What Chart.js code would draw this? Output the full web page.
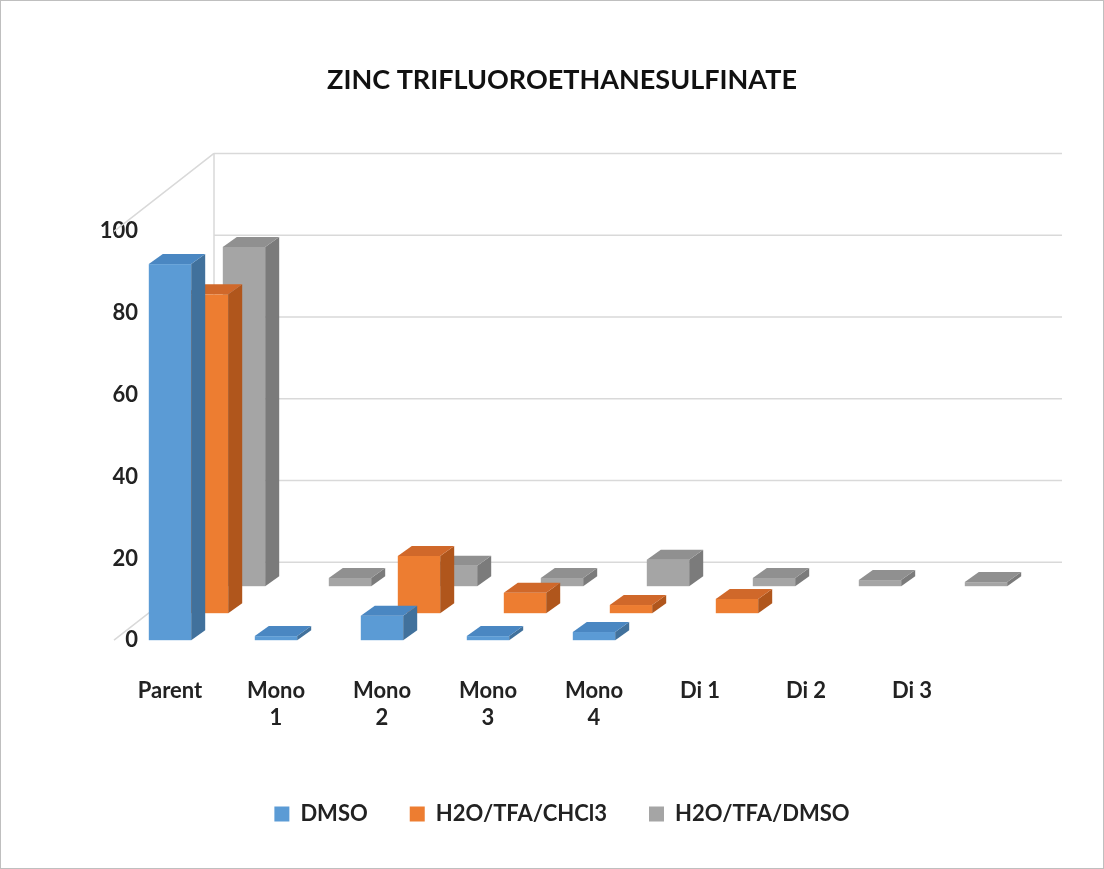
<!DOCTYPE html>
<html>
<head>
<meta charset="utf-8">
<script src="https://cdn.jsdelivr.net/npm/chart.js@4"></script>
<style>
  html, body { margin: 0; padding: 0; background: #fff; }
  #wrap { width: 1102px; height: 867px; border: 1px solid #bfbfbf; }
</style>
</head>
<body>
<div id="wrap"><canvas id="chart" width="1102" height="867"></canvas></div>
<script>
// Chart data
const categories = [['Parent'], ['Mono', '1'], ['Mono', '2'], ['Mono', '3'], ['Mono', '4'], ['Di 1'], ['Di 2'], ['Di 3']];
const dmso = [92, 1, 6, 1, 2, 0, 0, 0];
const h2oTfaChcl3 = [78, 0, 14, 5, 2, 3.5, 0, 0];
const h2oTfaDmso = [83, 2, 5, 2, 6.5, 2, 1.5, 1];
const yTicks = [0, 20, 40, 60, 80, 100];

const seriesNames = ['DMSO', 'H2O/TFA/CHCl3', 'H2O/TFA/DMSO'];
const front = ['#5B9BD5', '#ED7D31', '#A5A5A5'];
const side = ['#41719C', '#B0561C', '#7B7B7B'];
const top_ = ['#4A87C2', '#D0682A', '#909090'];

// depth per series and for the back wall
const SER_DX = 37, SER_DY = 27;
const WALL_DX = 100, WALL_DY = 78;

const bars3d = {
    id: 'bars3d',
    beforeDatasetsDraw(chart) {
        const ctx = chart.ctx;
        const xs = chart.scales.x, ys = chart.scales.y;
        const area = chart.chartArea;
        const left = area.left - 56;
        const right = xs.getPixelForValue(categories.length - 1) + 50;
        ctx.save();
        ctx.strokeStyle = '#d9d9d9';
        ctx.lineWidth = 1.5;
        yTicks.forEach(t => {
            const y = ys.getPixelForValue(t);
            ctx.beginPath();
            ctx.moveTo(left + WALL_DX, y - WALL_DY);
            ctx.lineTo(right + WALL_DX, y - WALL_DY);
            ctx.stroke();
        });
        [0, 100].forEach(t => {
            const y = ys.getPixelForValue(t);
            ctx.beginPath();
            ctx.moveTo(left, y);
            ctx.lineTo(left + WALL_DX, y - WALL_DY);
            ctx.stroke();
        });
        ctx.beginPath();
        ctx.moveTo(left + WALL_DX, ys.getPixelForValue(0) - WALL_DY);
        ctx.lineTo(left + WALL_DX, ys.getPixelForValue(100) - WALL_DY);
        ctx.stroke();

        const step = xs.getPixelForValue(1) - xs.getPixelForValue(0);
        const w = step * 0.4, d = 14, h = 10;
        for (let s = 2; s >= 0; s--) {
            const data = chart.data.datasets[s].data;
            data.forEach((v, i) => {
                if (!v) return;
                const cx = xs.getPixelForValue(i) + s * SER_DX;
                const x0 = cx - w / 2, x1 = cx + w / 2;
                const yb = ys.getPixelForValue(0) - s * SER_DY;
                const yt = ys.getPixelForValue(v) - s * SER_DY;
                ctx.fillStyle = front[s];
                ctx.fillRect(x0, yt, w, yb - yt);
                ctx.fillStyle = side[s];
                ctx.beginPath();
                ctx.moveTo(x1, yb); ctx.lineTo(x1 + d, yb - h);
                ctx.lineTo(x1 + d, yt - h); ctx.lineTo(x1, yt);
                ctx.closePath(); ctx.fill();
                ctx.fillStyle = top_[s];
                ctx.beginPath();
                ctx.moveTo(x0, yt); ctx.lineTo(x0 + d, yt - h);
                ctx.lineTo(x1 + d, yt - h); ctx.lineTo(x1, yt);
                ctx.closePath(); ctx.fill();
            });
        }
        ctx.restore();
        return false;
    }
};

const ctx = document.getElementById('chart').getContext('2d');
new Chart(ctx, {
    type: 'bar',
    data: {
        labels: categories,
        datasets: [dmso, h2oTfaChcl3, h2oTfaDmso].map((d, i) => ({
            label: seriesNames[i],
            data: d,
            backgroundColor: front[i]
        }))
    },
    options: {
        responsive: false,
        animation: false,
        layout: { padding: { left: 20, right: 0, top: 0, bottom: 33 } },
        plugins: {
            title: {
                display: true,
                text: 'ZINC TRIFLUOROETHANESULFINATE',
                color: '#111',
                font: { family: 'Lato', size: 27, weight: 'bold' },
                padding: { top: 63, bottom: 135 }
            },
            legend: {
                position: 'bottom',
                labels: {
                    color: '#222',
                    boxWidth: 15, boxHeight: 15,
                    padding: 42,
                    font: { family: 'Lato', size: 22, weight: 'bold' }
                }
            },
            tooltip: { enabled: false }
        },
        scales: {
            x: {
                offset: false,
                grid: { display: false },
                border: { display: false },
                ticks: {
                    color: '#222', padding: 30, maxRotation: 0,
                    font: { family: 'Lato', size: 22, weight: 'bold' }
                }
            },
            y: {
                min: 0, max: 100,
                afterBuildTicks: axis => { axis.ticks = yTicks.map(v => ({ value: v })); },
                afterFit: axis => { axis.width = 149; },
                grid: { display: false },
                border: { display: false },
                ticks: {
                    color: '#222', padding: 24,
                    font: { family: 'Lato', size: 22, weight: 'bold' }
                }
            },
            yRight: {
                position: 'right',
                min: 0, max: 100,
                afterFit: axis => { axis.width = 191; },
                grid: { display: false },
                border: { display: false },
                ticks: { display: false }
            }
        }
    },
    plugins: [bars3d]
});
</script>
</body>
</html>
